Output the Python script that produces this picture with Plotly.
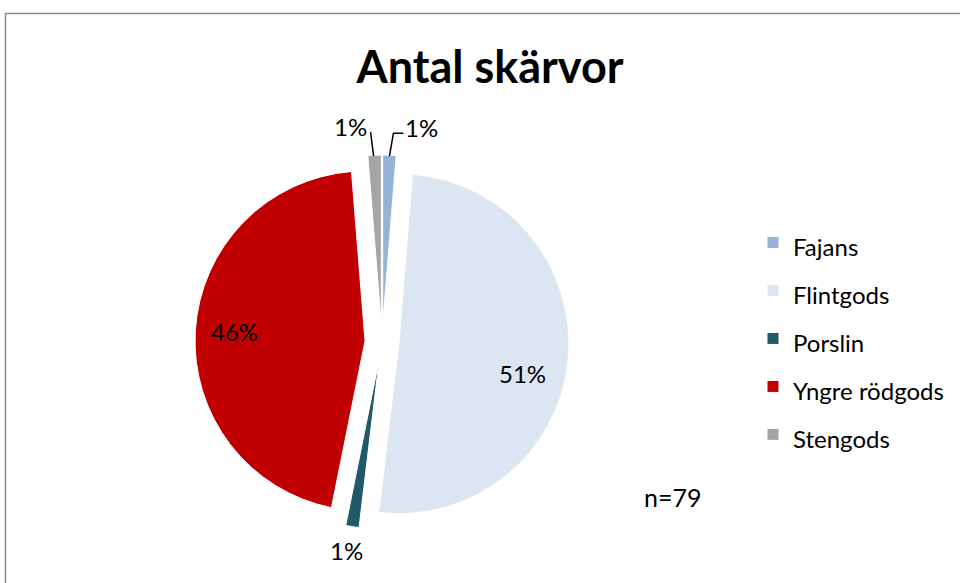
import math
import plotly.graph_objects as go

# Sherd counts per ware type
categories = ["Fajans", "Flintgods", "Porslin", "Yngre rödgods", "Stengods"]
counts = [1, 40, 1, 36, 1]
colors = ["#95B3D7", "#DCE6F2", "#215968", "#C00000", "#A5A5A5"]
title_text = "Antal skärvor"

W, H = 960, 583
FONT = "Lato"
TXT = 24
PULL = 0.1

# Pie placement in pixels (domain is a square box)
cx, cy, half = 382, 342, 187
dom_x = [(cx - half) / W, (cx + half) / W]
dom_y = [1 - (cy + half) / H, 1 - (cy - half) / H]
radius = half / (1 + PULL)

total = sum(counts)

fig = go.Figure()
fig.add_trace(go.Pie(
    labels=[f'<span style="font-size:{TXT}px">{c}</span>' for c in categories],
    values=counts,
    sort=False,
    direction="clockwise",
    rotation=0,
    pull=[PULL] * len(counts),
    marker=dict(colors=colors, line=dict(color="white", width=1)),
    domain=dict(x=dom_x, y=dom_y),
    textinfo="none",
    hovertext=categories,
    hoverinfo="text+value+percent",
    showlegend=True,
))


def px2paper(x, y):
    return x / W, 1 - y / H


# Geometry of each pulled slice: bisector direction and shifted centre
slices = []
acc = 0
for c in counts:
    mid = (acc + c / 2) / total * 2 * math.pi
    acc += c
    ux, uy = math.sin(mid), -math.cos(mid)
    pcx, pcy = cx + PULL * radius * ux, cy + PULL * radius * uy
    slices.append((ux, uy, pcx, pcy))

# Data labels: (radius fraction along bisector, extra dx, dy in px, leader style)
label_style = {
    0: (1.0, 32, -28, "elbow"),
    1: (0.77, -7, 17, None),
    2: (1.0, -6, 24, None),
    3: (0.77, 0, -2, None),
    4: (1.0, -24, -29, "straight"),
}
for i, (frac, dx, dy, leader) in label_style.items():
    ux, uy, pcx, pcy = slices[i]
    ax_, ay_ = pcx + frac * radius * ux, pcy + frac * radius * uy
    lx, ly = ax_ + dx, ay_ + dy
    pct = round(counts[i] / total * 100)
    px_, py_ = px2paper(lx, ly)
    fig.add_annotation(
        x=px_, y=py_, xref="paper", yref="paper",
        xanchor="center", yanchor="middle",
        text=f"{pct}%", showarrow=False,
        font=dict(family=FONT, size=TXT, color="black"),
    )
    if leader == "elbow":
        p0 = px2paper(lx - 18, ly + 6)
        p1 = px2paper(ax_ + 4, ly + 6)
        p2 = px2paper(ax_, ay_ + 1)
        path = f"M {p0[0]},{p0[1]} L {p1[0]},{p1[1]} L {p2[0]},{p2[1]}"
        fig.add_shape(type="path", path=path, xref="paper", yref="paper",
                      line=dict(color="black", width=1.5))
    elif leader == "straight":
        p0 = px2paper(lx + 20, ly + 6)
        p2 = px2paper(ax_ - 1, ay_ + 1)
        fig.add_shape(type="line", x0=p0[0], y0=p0[1], x1=p2[0], y1=p2[1],
                      xref="paper", yref="paper",
                      line=dict(color="black", width=1.5))

# Sample size note
fig.add_annotation(
    x=672 / W, y=1 - 497 / H, xref="paper", yref="paper",
    xanchor="center", yanchor="middle",
    text=f"n={total}", showarrow=False,
    font=dict(family=FONT, size=25, color="black"),
)

# Chart frame
fig.add_shape(type="rect", x0=5.5 / W, x1=1.02, y0=-0.02, y1=1 - 13.5 / H,
              xref="paper", yref="paper",
              line=dict(color="#8C8C8C", width=1.5), layer="below")

fig.update_layout(
    width=W, height=H,
    margin=dict(l=0, r=0, t=0, b=0),
    paper_bgcolor="white",
    plot_bgcolor="white",
    title=dict(text=f"<b>{title_text}</b>", x=490 / W, xanchor="center",
               y=1 - 67 / H, yanchor="middle",
               font=dict(family=FONT, size=45, color="black")),
    legend=dict(
        x=753 / W, xanchor="left", y=1 - 338.5 / H, yanchor="middle",
        font=dict(family=FONT, size=34.6, color="black"),
        bgcolor="rgba(0,0,0,0)",
    ),
    font=dict(family=FONT),
)

fig.write_html("out.html")
